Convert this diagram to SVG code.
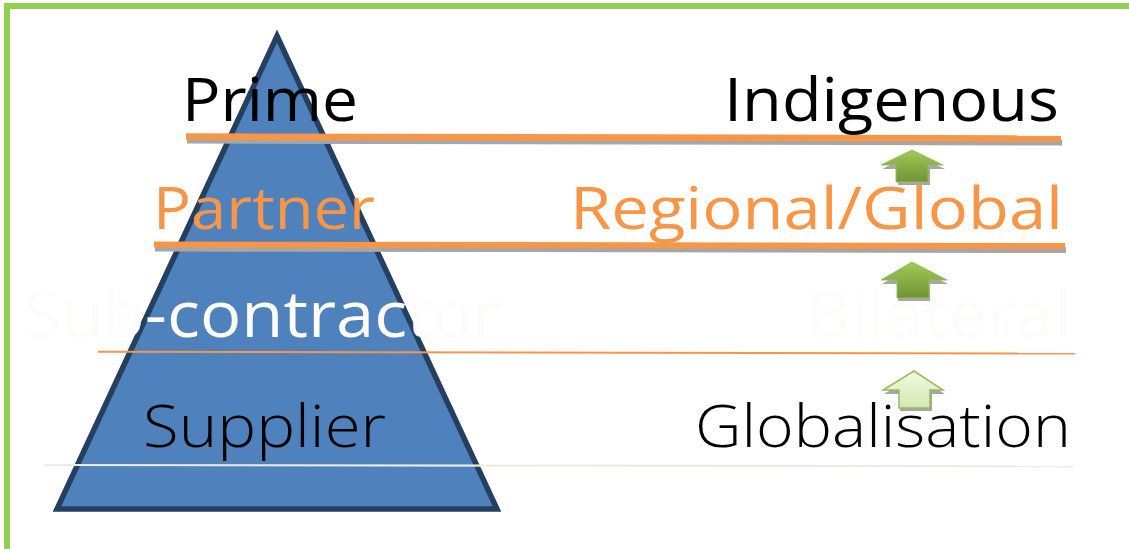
<svg xmlns="http://www.w3.org/2000/svg" width="1129" height="549" viewBox="0 0 1129 549">
  <style>
    .lbl { font-family: "Open Sans", "Noto Sans", "DejaVu Sans", sans-serif; }
    .thin { font-weight: 300; }
    .dark { fill: #000000; }
    .orange { fill: #F79646; }
    .pale { fill: #FDFCFA; }
    .shadow { fill: #A6A6A6; }
  </style>
  <defs>
    <linearGradient id="gDark" x1="0" y1="0" x2="0" y2="1">
      <stop offset="0" stop-color="#A2C95A"/>
      <stop offset="1" stop-color="#6F9434"/>
    </linearGradient>
    <linearGradient id="gLight" x1="0" y1="0" x2="0" y2="1">
      <stop offset="0" stop-color="#F2F9E6"/>
      <stop offset="1" stop-color="#D3E9AE"/>
    </linearGradient>
  </defs>

  <rect width="1129" height="549" fill="#FFFFFF"/>
  <!-- frame -->
  <rect x="7" y="6" width="1200" height="600" fill="none" stroke="#92D050" stroke-width="6"/>

  <!-- pyramid -->
  <g id="pyramid">
    <path d="M277,36 L497,509 L57,509 Z" fill="#4F81BD" stroke="#243F60" stroke-width="5.5" stroke-linejoin="miter"/>
  </g>

  <!-- level dividers -->
  <g id="connectors">
    <line x1="187" y1="140.5" x2="1062" y2="142.5" stroke="#A6A6A6" stroke-width="6"/>
    <line x1="186" y1="136.5" x2="1061" y2="138.5" stroke="#F79646" stroke-width="6.5"/>
    <line x1="155" y1="248.5" x2="1066" y2="250" stroke="#A6A6A6" stroke-width="6"/>
    <line x1="154" y1="244.5" x2="1065" y2="246" stroke="#F79646" stroke-width="6"/>
    <line x1="98" y1="351.8" x2="1075" y2="353.5" stroke="#F79646" stroke-width="2"/>
    <line x1="45" y1="465" x2="1074" y2="466.3" stroke="#EEECE1" stroke-width="2.2"/>
  </g>

  <!-- left column labels -->
  <g id="prime"><text class="lbl dark" x="182" y="121" font-size="60" textLength="176" lengthAdjust="spacingAndGlyphs">Prime</text></g>
  <g id="partner"><text class="lbl orange" x="153" y="229" font-size="58" textLength="222" lengthAdjust="spacingAndGlyphs">Partner</text></g>
  <g id="subcontractor"><text class="lbl pale" x="23" y="337" font-size="64" textLength="478" lengthAdjust="spacingAndGlyphs">Sub-contractor</text></g>
  <g id="supplier"><text class="lbl thin dark" x="143" y="447" font-size="59" textLength="243" lengthAdjust="spacingAndGlyphs">Supplier</text></g>

  <!-- right column labels -->
  <g id="indigenous"><text class="lbl dark" x="724" y="121" font-size="60" textLength="335" lengthAdjust="spacingAndGlyphs">Indigenous</text></g>
  <g id="regional"><text class="lbl orange" x="570" y="229" font-size="58" textLength="493" lengthAdjust="spacingAndGlyphs">Regional/Global</text></g>
  <g id="bilateral"><text class="lbl pale" x="806" y="337" font-size="64" textLength="265" lengthAdjust="spacingAndGlyphs">Bilateral</text></g>
  <g id="globalisation"><text class="lbl thin dark" x="695" y="447" font-size="59" textLength="376" lengthAdjust="spacingAndGlyphs">Globalisation</text></g>

  <!-- progression arrows -->
  <g id="arrow-top">
    <path class="shadow" d="M913,154 L945,169 L930,169 L930,185 L898,185 L898,169 L882,169 Z"/>
    <path d="M912,150 L943,165 L928,165 L928,182 L896,182 L896,165 L881,165 Z" fill="url(#gDark)" stroke="#9BBB59" stroke-width="1"/>
  </g>
  <g id="arrow-mid">
    <path class="shadow" d="M913,266 L948,284 L930,284 L930,301 L898,301 L898,284 L882,284 Z"/>
    <path d="M912,262 L947,280 L929,280 L929,298 L897,298 L897,280 L881,280 Z" fill="url(#gDark)" stroke="#9BBB59" stroke-width="1"/>
  </g>
  <g id="arrow-low">
    <path class="shadow" d="M915,375 L945,394 L932,394 L932,411 L900,411 L900,394 L884,394 Z"/>
    <path d="M914,371 L943,390 L930,390 L930,408 L899,408 L899,390 L883,390 Z" fill="url(#gLight)" stroke="#9BBB59" stroke-width="1.5"/>
  </g>
</svg>
